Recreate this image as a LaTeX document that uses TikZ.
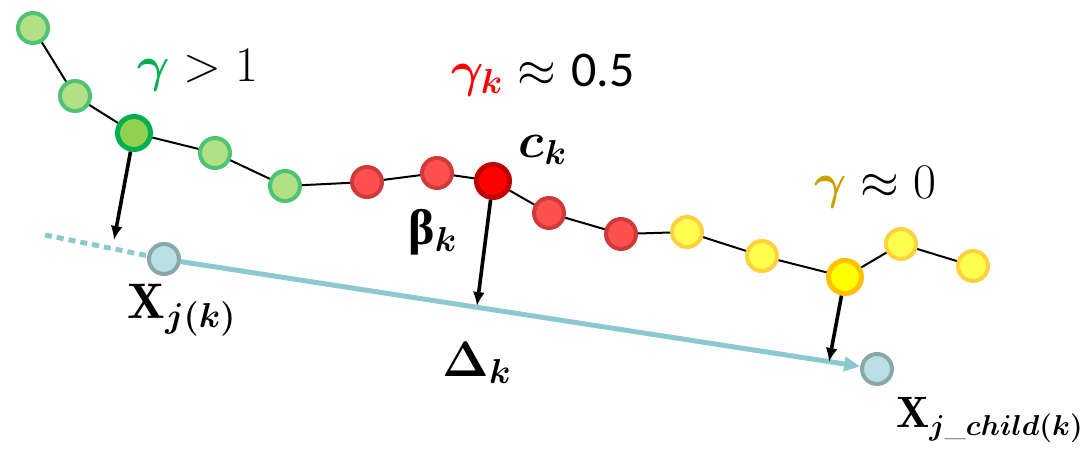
\documentclass[tikz,border=0pt]{standalone}
\usepackage{amsmath,amssymb}
\usepackage{fontspec}
\newfontfamily\calibrifont{Carlito}
\newfontfamily\grkfont{Liberation Serif}
\usetikzlibrary{arrows.meta}
\definecolor{GrnFill}{HTML}{B3DF87}
\definecolor{GrnLine}{HTML}{4DC373}
\definecolor{GrnKeyFill}{HTML}{92D050}
\definecolor{GrnKeyLine}{HTML}{00B050}
\definecolor{RedFill}{HTML}{FF5050}
\definecolor{RedLine}{HTML}{D03A3A}
\definecolor{RedKeyFill}{HTML}{FF0000}
\definecolor{RedKeyLine}{HTML}{C00000}
\definecolor{YelFill}{HTML}{FFFF4D}
\definecolor{YelLine}{HTML}{FFD141}
\definecolor{YelKeyFill}{HTML}{FFFF00}
\definecolor{YelKeyLine}{HTML}{FFC000}
\definecolor{ParFill}{HTML}{B8DFE3}
\definecolor{ParLine}{HTML}{8AA7A9}
\definecolor{ParEdge}{HTML}{8BC8D0}
\definecolor{GamGreen}{HTML}{00B050}
\definecolor{GamGold}{HTML}{C9A000}

\begin{document}
\begin{tikzpicture}[x=0.5pt,y=-0.5pt,
  pt/.style={circle,inner sep=0pt,minimum size=15pt,line width=2pt},
  keypt/.style={circle,inner sep=0pt,minimum size=16.5pt,line width=2.5pt},
  grn/.style={pt,draw=GrnLine,fill=GrnFill},
  grnkey/.style={keypt,draw=GrnKeyLine,fill=GrnKeyFill},
  redn/.style={pt,draw=RedLine,fill=RedFill},
  redkey/.style={keypt,draw=RedKeyLine,fill=RedKeyFill},
  yel/.style={pt,draw=YelLine,fill=YelFill},
  yelkey/.style={keypt,draw=YelKeyLine,fill=YelKeyFill},
  par/.style={pt,draw=ParLine,fill=ParFill},
  chain/.style={line width=1pt},
  proj/.style={line width=1.8pt,-{Latex[length=7pt,width=6pt]}},
  lbl/.style={inner sep=0pt,font=\fontsize{25}{29}\selectfont}]
  \useasboundingbox (0,0) rectangle (1087,450);
  % trajectory
  \node[grn] (g1) at (33,28) {};
  \node[grn] (g2) at (75,96) {};
  \node[grnkey] (g3) at (134,133) {};
  \node[grn] (g4) at (215,153) {};
  \node[grn] (g5) at (285,186) {};
  \node[redn] (r1) at (367,182) {};
  \node[redn] (r2) at (437,173) {};
  \node[redkey] (r3) at (493,181) {};
  \node[redn] (r4) at (549,213) {};
  \node[redn] (r5) at (621,234) {};
  \node[yel] (y1) at (687,232) {};
  \node[yel] (y2) at (762,256) {};
  \node[yelkey] (y3) at (845,277) {};
  \node[yel] (y4) at (901,244) {};
  \node[yel] (y5) at (973,266) {};
  \draw[chain] (g1)--(g2)--(g3)--(g4)--(g5)--(r1)--(r2)--(r3)--(r4)--(r5)
    --(y1)--(y2)--(y3)--(y4)--(y5);
  % parents
  \node[par] (xj) at (164,259) {};
  \node[par] (xc) at (877,369) {};
  \coordinate (dstart) at (45,235);
  \draw[ParEdge,line width=2.5pt,dash pattern=on 3.5pt off 2.5pt] (dstart)--(xj);
  \draw[ParEdge,line width=2.5pt,-{Triangle[length=8pt,width=7pt]}] (xj)--(xc);
  % projections
  \coordinate (pg) at (114,240);
  \coordinate (pk) at (477,306);
  \coordinate (py) at (829,362);
  \draw[proj] (g3)--(pg);
  \draw[proj] (r3)--(pk);
  \draw[proj] (y3)--(py);
  % labels
  \node[lbl] (gbig) at (198,70) {$\color{GamGreen}\boldsymbol{\gamma}\color{black} > 1$};
  \node[lbl] (gmid) at (543,75) {$\color{RedKeyFill}\boldsymbol{\gamma_k}\color{black}\approx$ {\calibrifont 0.5}};
  \node[lbl] (gzero) at (875,187) {$\color{GamGold}\boldsymbol{\gamma}\color{black}\approx 0$};
  \node[lbl] (ck) at (543,150) {$\boldsymbol{c_k}$};
  \node[lbl] (bk) at (433,232) {{\grkfont\bfseries β}$_{\boldsymbol{k}}$};
  \node[lbl,font=\fontsize{23}{27}\selectfont] (dk) at (477,363) {$\boldsymbol{\Delta}_{\boldsymbol{k}}$};
  \node[lbl] (lj) at (182,310) {$\mathbf{X}_{\boldsymbol{j(k)}}$};
  \node[lbl,font=\fontsize{22}{26}\selectfont,anchor=east] (lc) at (1084,420) {$\mathbf{X}_{\boldsymbol{j\_child(k)}}$};
\end{tikzpicture}
\end{document}
